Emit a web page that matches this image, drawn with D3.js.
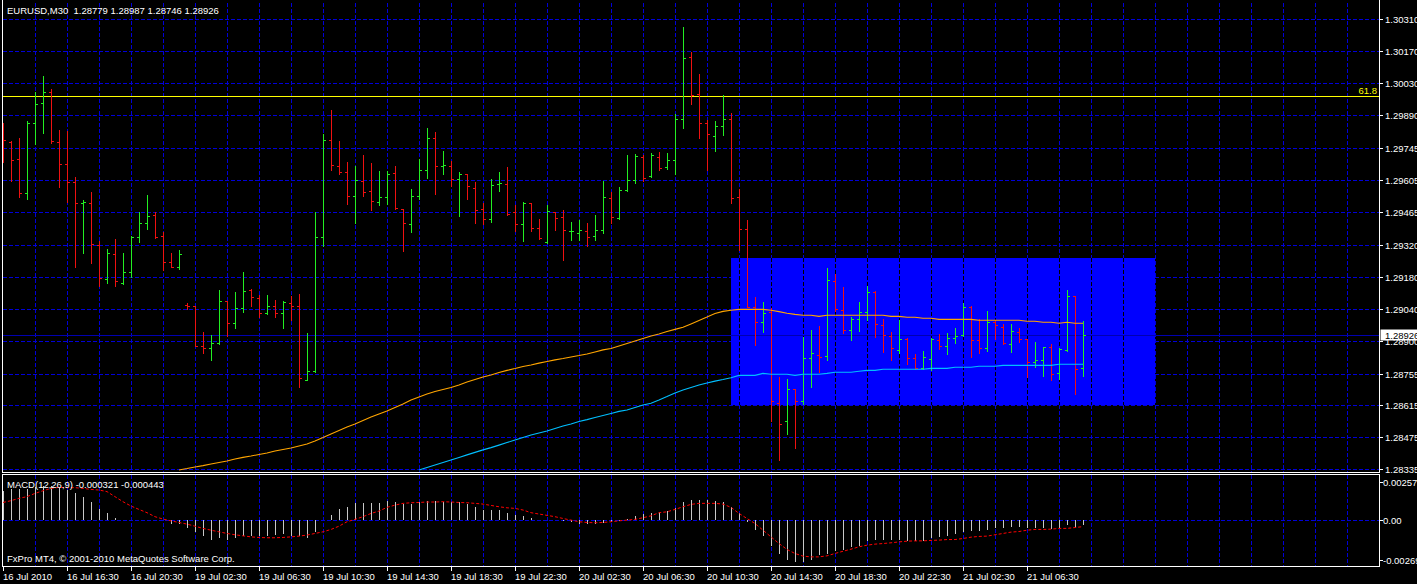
<!DOCTYPE html>
<html><head><meta charset="utf-8">
<script src="https://cdn.jsdelivr.net/npm/d3@7"></script>
<style>
html,body{margin:0;padding:0;background:#000;overflow:hidden;}
svg{display:block;}
text{font-family:"Liberation Sans",Arial,sans-serif;font-size:9.5px;}
</style></head><body>
<svg id="chart" width="1417" height="584"></svg>
<script>
// ---------------- DATA ----------------
const symbolTitle = "EURUSD,M30  1.28779 1.28987 1.28746 1.28926";
const macdTitle = "MACD(12,26,9) -0.000321 -0.000443";
const copyright = "FxPro MT4, \u00A9 2001-2010 MetaQuotes Software Corp.";

const opens = [1.29794,1.29772,1.29696,1.29546,1.29854,1.29942,1.29990,1.29770,1.29674,1.29595,
1.29502,1.29502,1.29319,1.29169,1.29279,1.29151,1.29200,1.29355,1.29415,1.29451,
1.29359,1.29244,1.29224,1.29055,1.29052,1.28877,1.28866,1.28888,1.29072,1.28977,
1.29042,1.29122,1.29085,1.29020,1.29050,1.29021,1.29065,1.29050,1.28728,1.28765,
1.29353,1.29779,1.29665,1.29639,1.29533,1.29600,1.29557,1.29507,1.29529,1.29636,
1.29476,1.29410,1.29533,1.29647,1.29788,1.29665,1.29665,1.29608,1.29631,1.29568,
1.29477,1.29432,1.29586,1.29586,1.29463,1.29410,1.29502,1.29394,1.29331,1.29463,
1.29441,1.29380,1.29373,1.29380,1.29358,1.29384,1.29524,1.29437,1.29560,1.29603,
1.29706,1.29621,1.29706,1.29661,1.29691,1.29871,1.30143,1.29981,1.29854,1.29797,
1.29841,1.29871,1.29529,1.29388,1.29049,1.28980,1.29024,1.28625,1.28545,1.28686,
1.28635,1.28822,1.28837,1.28831,1.29160,1.29033,1.28945,1.28993,1.29024,1.29112,
1.28967,1.28919,1.28857,1.28905,1.28822,1.28778,1.28818,1.28901,1.28875,1.28910,
1.28923,1.29046,1.28901,1.28866,1.28980,1.28958,1.28884,1.28936,1.28905,1.28805,
1.28813,1.28870,1.28756,1.28857,1.29094,1.28779];
const highs = [1.29856,1.29776,1.29789,1.29864,1.29991,1.30061,1.30003,1.29824,1.29820,1.29618,
1.29517,1.29552,1.29337,1.29302,1.29346,1.29284,1.29359,1.29464,1.29539,1.29464,
1.29377,1.29284,1.29298,1.29066,1.29053,1.28939,1.28924,1.29122,1.29074,1.29113,
1.29201,1.29126,1.29100,1.29100,1.29078,1.29074,1.29096,1.29104,1.28933,1.29463,
1.29807,1.29912,1.29776,1.29684,1.29666,1.29715,1.29681,1.29644,1.29644,1.29666,
1.29478,1.29565,1.29697,1.29833,1.29816,1.29732,1.29688,1.29640,1.29632,1.29596,
1.29502,1.29609,1.29640,1.29662,1.29495,1.29508,1.29504,1.29435,1.29495,1.29464,
1.29473,1.29422,1.29431,1.29417,1.29451,1.29602,1.29552,1.29573,1.29715,1.29719,
1.29715,1.29723,1.29728,1.29723,1.29895,1.30276,1.30167,1.30070,1.29868,1.29864,
1.29978,1.29899,1.29565,1.29429,1.29091,1.29069,1.29043,1.28740,1.28731,1.28687,
1.28916,1.28946,1.28964,1.29218,1.29192,1.29135,1.29003,1.29069,1.29139,1.29118,
1.28995,1.28938,1.28990,1.28910,1.28841,1.28854,1.28911,1.28929,1.28933,1.28955,
1.29065,1.29052,1.28995,1.29030,1.28990,1.28973,1.28973,1.28955,1.28907,1.28894,
1.28872,1.28885,1.28867,1.29122,1.29096,1.28987];
const lows = [1.29685,1.29602,1.29529,1.29523,1.29764,1.29812,1.29766,1.29575,1.29508,1.29224,
1.29286,1.29242,1.29141,1.29154,1.29141,1.29148,1.29180,1.29334,1.29390,1.29350,
1.29211,1.29222,1.29215,1.29040,1.28875,1.28847,1.28816,1.28886,1.28921,1.28956,
1.29027,1.29053,1.29005,1.29015,1.29005,1.28956,1.28990,1.28695,1.28725,1.28763,
1.29316,1.29650,1.29632,1.29501,1.29417,1.29536,1.29474,1.29496,1.29501,1.29479,
1.29293,1.29378,1.29523,1.29615,1.29545,1.29632,1.29580,1.29448,1.29523,1.29417,
1.29413,1.29422,1.29558,1.29452,1.29382,1.29338,1.29382,1.29347,1.29330,1.29387,
1.29255,1.29343,1.29343,1.29316,1.29343,1.29373,1.29417,1.29435,1.29558,1.29590,
1.29599,1.29617,1.29650,1.29653,1.29631,1.29834,1.29940,1.29791,1.29649,1.29733,
1.29802,1.29505,1.29298,1.29046,1.28880,1.28939,1.28547,1.28376,1.28490,1.28430,
1.28623,1.28697,1.28763,1.28816,1.29031,1.28931,1.28902,1.28942,1.28992,1.28916,
1.28850,1.28815,1.28847,1.28798,1.28775,1.28775,1.28771,1.28863,1.28841,1.28889,
1.28920,1.28828,1.28845,1.28854,1.28907,1.28885,1.28850,1.28894,1.28740,1.28784,
1.28744,1.28727,1.28731,1.28855,1.28665,1.28746];
const closes = [1.29779,1.29693,1.29546,1.29854,1.29937,1.29990,1.29775,1.29674,1.29595,1.29502,
1.29507,1.29324,1.29173,1.29283,1.29161,1.29200,1.29355,1.29415,1.29447,1.29353,
1.29244,1.29224,1.29280,1.29053,1.28877,1.28866,1.28888,1.29072,1.28977,1.29042,
1.29116,1.29090,1.29022,1.29050,1.29021,1.29071,1.29050,1.28734,1.28765,1.29353,
1.29779,1.29669,1.29639,1.29533,1.29603,1.29551,1.29511,1.29529,1.29631,1.29481,
1.29415,1.29533,1.29647,1.29788,1.29665,1.29669,1.29608,1.29631,1.29577,1.29473,
1.29435,1.29582,1.29590,1.29457,1.29410,1.29502,1.29394,1.29350,1.29470,1.29437,
1.29384,1.29381,1.29384,1.29353,1.29384,1.29529,1.29441,1.29560,1.29603,1.29710,
1.29612,1.29715,1.29656,1.29691,1.29871,1.30139,1.29977,1.29854,1.29805,1.29841,
1.29871,1.29524,1.29388,1.29049,1.28980,1.29020,1.28635,1.28532,1.28686,1.28635,
1.28822,1.28844,1.28826,1.29164,1.29037,1.28945,1.28993,1.29024,1.29112,1.28971,
1.28923,1.28866,1.28905,1.28822,1.28778,1.28826,1.28907,1.28875,1.28910,1.28919,
1.29046,1.28901,1.28866,1.28980,1.28967,1.28888,1.28941,1.28905,1.28805,1.28813,
1.28870,1.28752,1.28862,1.29094,1.28774,1.28926];

// moving averages (first visible bar index, then one value per bar)
const maOrangeStart = 22;
const maOrange = [1.28332,1.28338,1.28345,1.28351,1.28358,1.28365,1.28371,1.28380,1.28387,1.28393,
1.28400,1.28406,1.28415,1.28422,1.28428,1.28437,1.28446,1.28459,1.28474,1.28490,
1.28505,1.28520,1.28534,1.28549,1.28564,1.28578,1.28591,1.28606,1.28621,1.28639,
1.28652,1.28665,1.28676,1.28685,1.28694,1.28705,1.28718,1.28729,1.28740,1.28749,
1.28760,1.28769,1.28777,1.28786,1.28793,1.28801,1.28808,1.28815,1.28821,1.28828,
1.28834,1.28841,1.28850,1.28859,1.28865,1.28876,1.28887,1.28898,1.28909,1.28920,
1.28929,1.28940,1.28949,1.28958,1.28973,1.28988,1.29003,1.29019,1.29028,1.29033,
1.29037,1.29037,1.29037,1.29037,1.29033,1.29027,1.29020,1.29015,1.29011,1.29011,
1.29006,1.29011,1.29011,1.29011,1.29011,1.29011,1.29011,1.29011,1.29011,1.29006,
1.29006,1.29002,1.29002,1.28998,1.28998,1.28993,1.28993,1.28993,1.28993,1.28993,
1.28989,1.28989,1.28989,1.28989,1.28989,1.28989,1.28985,1.28985,1.28980,1.28980,
1.28976,1.28980,1.28976,1.28976];
const maCyanStart = 52;
const maCyan = [1.28332,1.28343,1.28354,1.28365,1.28376,1.28387,1.28398,1.28409,1.28420,1.28430,
1.28441,1.28452,1.28463,1.28474,1.28485,1.28494,1.28503,1.28514,1.28525,1.28534,
1.28545,1.28553,1.28562,1.28571,1.28580,1.28589,1.28595,1.28606,1.28617,1.28625,
1.28639,1.28654,1.28670,1.28683,1.28694,1.28705,1.28714,1.28722,1.28729,1.28737,
1.28747,1.28747,1.28747,1.28756,1.28752,1.28752,1.28752,1.28747,1.28752,1.28752,
1.28752,1.28756,1.28761,1.28761,1.28761,1.28765,1.28769,1.28769,1.28774,1.28774,
1.28774,1.28774,1.28774,1.28774,1.28778,1.28778,1.28778,1.28783,1.28783,1.28783,
1.28787,1.28787,1.28787,1.28791,1.28791,1.28791,1.28791,1.28791,1.28791,1.28791,
1.28796,1.28796,1.28796,1.28796];

const macdHist = [0.00198,0.00210,0.00210,0.00210,0.00225,0.00232,0.00230,0.00214,0.00203,0.00185,
0.00158,0.00124,0.00074,0.00050,0.00016,0.00002,0.00001,-0.00001,0.00001,0.00000,
0.00001,-0.00023,-0.00023,-0.00050,-0.00079,-0.00108,-0.00131,-0.00124,-0.00131,-0.00124,
-0.00108,-0.00106,-0.00106,-0.00104,-0.00101,-0.00095,-0.00108,-0.00108,-0.00122,-0.00081,
-0.00001,0.00036,0.00074,0.00090,0.00113,0.00117,0.00117,0.00117,0.00128,0.00122,
0.00106,0.00106,0.00119,0.00128,0.00128,0.00124,0.00124,0.00124,0.00110,0.00090,
0.00068,0.00068,0.00068,0.00050,0.00034,0.00027,0.00011,0.00001,0.00000,0.00000,
-0.00005,-0.00011,-0.00023,-0.00027,-0.00027,-0.00018,-0.00016,-0.00005,0.00005,0.00027,
0.00038,0.00050,0.00054,0.00061,0.00079,0.00122,0.00135,0.00135,0.00135,0.00128,
0.00122,0.00090,0.00050,-0.00011,-0.00068,-0.00108,-0.00176,-0.00230,-0.00266,-0.00282,
-0.00282,-0.00270,-0.00237,-0.00230,-0.00210,-0.00203,-0.00180,-0.00174,-0.00142,-0.00135,
-0.00131,-0.00135,-0.00135,-0.00140,-0.00140,-0.00140,-0.00124,-0.00117,-0.00106,-0.00097,
-0.00083,-0.00072,-0.00072,-0.00068,-0.00056,-0.00050,-0.00045,-0.00045,-0.00050,-0.00056,
-0.00050,-0.00063,-0.00056,-0.00034,-0.00045,-0.00032];
const macdSignal = [0.00119,0.00131,0.00147,0.00158,0.00180,0.00198,0.00214,0.00221,0.00219,0.00219,
0.00214,0.00207,0.00203,0.00192,0.00158,0.00124,0.00095,0.00072,0.00050,0.00023,
0.00007,-0.00005,-0.00016,-0.00027,-0.00041,-0.00056,-0.00068,-0.00079,-0.00090,-0.00099,
-0.00106,-0.00113,-0.00117,-0.00119,-0.00119,-0.00117,-0.00113,-0.00108,-0.00101,-0.00090,
-0.00079,-0.00063,-0.00041,-0.00011,0.00005,0.00023,0.00045,0.00061,0.00086,0.00101,
0.00113,0.00117,0.00119,0.00122,0.00122,0.00124,0.00122,0.00119,0.00117,0.00113,
0.00108,0.00099,0.00090,0.00083,0.00079,0.00068,0.00050,0.00041,0.00032,0.00023,
0.00011,0.00000,-0.00011,-0.00016,-0.00018,-0.00016,-0.00011,-0.00005,0.00000,0.00005,
0.00016,0.00029,0.00050,0.00056,0.00072,0.00090,0.00106,0.00113,0.00113,0.00113,
0.00108,0.00086,0.00045,0.00011,-0.00023,-0.00068,-0.00113,-0.00158,-0.00198,-0.00225,
-0.00243,-0.00248,-0.00248,-0.00241,-0.00225,-0.00210,-0.00196,-0.00180,-0.00169,-0.00162,
-0.00158,-0.00153,-0.00147,-0.00142,-0.00140,-0.00140,-0.00137,-0.00135,-0.00131,-0.00131,
-0.00124,-0.00115,-0.00110,-0.00108,-0.00099,-0.00090,-0.00081,-0.00077,-0.00068,-0.00063,
-0.00063,-0.00061,-0.00056,-0.00056,-0.00050,-0.00044];

const priceTicks = [1.30310,1.30170,1.30030,1.29890,1.29745,1.29605,1.29465,1.29320,1.29180,1.29040,1.28900,1.28755,1.28615,1.28475,1.28335];
const priceTickLabels = ["1.30310","1.30170","1.30030","1.29890","1.29745","1.29605","1.29465","1.29320","1.29180","1.29040","1.28900","1.28755","1.28615","1.28475","1.28335"];
const macdTicks = [0.00257, 0, -0.00269];
const macdTickLabels = ["0.00257","0.00","-0.00269"];
const timeLabels = ["16 Jul 2010","16 Jul 16:30","16 Jul 20:30","19 Jul 02:30","19 Jul 06:30","19 Jul 10:30","19 Jul 14:30","19 Jul 18:30","19 Jul 22:30","20 Jul 02:30","20 Jul 06:30","20 Jul 10:30","20 Jul 14:30","20 Jul 18:30","20 Jul 22:30","21 Jul 02:30","21 Jul 06:30"];
const timeLabelBars = [0,8,16,24,32,40,48,56,64,72,80,88,96,104,112,120,128];
const fiboPrice = 1.29972, fiboLabel = "61.8";
const bidPrice = 1.28926, bidLabel = "1.28926";
const boxBars = [91, 144];
const boxPrices = [1.29262, 1.28616];

// ---------------- LAYOUT ----------------
const W = 1417, H = 584;
const L = 3, R = 1379, mainTop = 3, mainBot = 472, macdTop = 475, macdBot = 566;
const C = {grid:"#0000d8", up:"#22ee22", down:"#ee1111", orange:"#ffa500", cyan:"#00bfff",
  yellow:"#ffff00", rect:"#0000ff", text:"#ffffff", hist:"#c8c8c8", signal:"#ff0000", bid:"#0000b0"};

const svg = d3.select("#chart");
svg.append("rect").attr("width",W).attr("height",H).attr("fill","#000");

const x = d3.scaleLinear().domain([0,172]).range([3,1379]);
const y = d3.scaleLinear().domain([1.28335,1.30310]).range([469.25,19.36]);
const ym = d3.scaleLinear().domain([-0.00269,0.00257]).range([560,482]);
const px = v => Math.round(v) + 0.5;

const defs = svg.append("defs");
defs.append("clipPath").attr("id","mainClip").append("rect")
  .attr("x",L).attr("y",mainTop).attr("width",R-L).attr("height",mainBot-mainTop);
defs.append("clipPath").attr("id","macdClip").append("rect")
  .attr("x",L).attr("y",macdTop).attr("width",R-L).attr("height",macdBot-macdTop);

// grid x positions every 4 bars
const gridBars = d3.range(4, 172, 4);

// ---- main grid
const gMain = svg.append("g").attr("clip-path","url(#mainClip)");
gMain.selectAll("line.hg").data(priceTicks).join("line")
  .attr("x1",L).attr("x2",R).attr("y1",d=>px(y(d))).attr("y2",d=>px(y(d)))
  .attr("stroke",C.grid).attr("stroke-dasharray","4,2");
gMain.selectAll("line.vg").data(gridBars).join("line")
  .attr("x1",d=>px(x(d))).attr("x2",d=>px(x(d))).attr("y1",mainTop).attr("y2",mainBot)
  .attr("stroke",C.grid).attr("stroke-dasharray","4,2");

// ---- rectangle object
const rx0 = Math.round(x(boxBars[0])), rx1 = Math.round(x(boxBars[1]));
const ry0 = Math.round(y(boxPrices[0])), ry1 = Math.round(y(boxPrices[1]));
gMain.append("rect").attr("x",rx0).attr("y",ry0).attr("width",rx1-rx0).attr("height",ry1-ry0)
  .attr("fill",C.rect);
gMain.selectAll("line.vgr").data(gridBars.filter(b=>x(b)>rx0 && x(b)<rx1)).join("line")
  .attr("x1",d=>px(x(d))).attr("x2",d=>px(x(d))).attr("y1",ry0).attr("y2",ry1)
  .attr("stroke","#000").attr("stroke-dasharray","4,2");

// ---- bid line and fibo line
gMain.append("line").attr("x1",L).attr("x2",R).attr("y1",px(y(bidPrice))).attr("y2",px(y(bidPrice)))
  .attr("stroke",C.bid);
gMain.append("line").attr("x1",L).attr("x2",R).attr("y1",px(y(fiboPrice))).attr("y2",px(y(fiboPrice)))
  .attr("stroke",C.yellow);
svg.append("text").attr("x",1377).attr("y",Math.round(y(fiboPrice))-2).attr("text-anchor","end")
  .attr("fill",C.yellow).text(fiboLabel);

// ---- OHLC bars
const bars = opens.map((o,i)=>({i, o, h:highs[i], l:lows[i], c:closes[i]}));
const gb = gMain.append("g").attr("shape-rendering","crispEdges");
const bg = gb.selectAll("g.bar").data(bars).join("g")
  .attr("stroke", d => d.c >= d.o ? C.up : C.down);
bg.append("line").attr("x1",d=>px(x(d.i))).attr("x2",d=>px(x(d.i)))
  .attr("y1",d=>Math.round(y(d.h))).attr("y2",d=>Math.round(y(d.l))+1);
bg.append("line").attr("x1",d=>Math.round(x(d.i))-2).attr("x2",d=>Math.round(x(d.i)))
  .attr("y1",d=>px(y(d.o))).attr("y2",d=>px(y(d.o)));
bg.append("line").attr("x1",d=>Math.round(x(d.i))+1).attr("x2",d=>Math.round(x(d.i))+3)
  .attr("y1",d=>px(y(d.c))).attr("y2",d=>px(y(d.c)));

// ---- moving averages
const maLine = d3.line().x(d=>x(d[0])).y(d=>y(d[1]));
gMain.append("path").datum(maOrange.map((v,k)=>[maOrangeStart+k,v]))
  .attr("d",maLine).attr("fill","none").attr("stroke",C.orange).attr("stroke-width",1.1);
gMain.append("path").datum(maCyan.map((v,k)=>[maCyanStart+k,v]))
  .attr("d",maLine).attr("fill","none").attr("stroke",C.cyan).attr("stroke-width",1.1);

// ---- MACD panel
const gM = svg.append("g").attr("clip-path","url(#macdClip)");
gM.append("line").attr("x1",L).attr("x2",R).attr("y1",px(ym(0))).attr("y2",px(ym(0)))
  .attr("stroke",C.grid).attr("stroke-dasharray","4,2");
gM.selectAll("line.vg").data(gridBars).join("line")
  .attr("x1",d=>px(x(d))).attr("x2",d=>px(x(d))).attr("y1",macdTop).attr("y2",macdBot)
  .attr("stroke",C.grid).attr("stroke-dasharray","4,2");
gM.append("g").attr("shape-rendering","crispEdges").selectAll("line").data(macdHist).join("line")
  .attr("x1",(d,i)=>px(x(i))).attr("x2",(d,i)=>px(x(i)))
  .attr("y1",Math.round(ym(0))).attr("y2",d=>Math.round(ym(d)))
  .attr("stroke",C.hist);
gM.append("path").datum(macdSignal.map((v,i)=>[i,v]))
  .attr("d",d3.line().x(d=>x(d[0])).y(d=>ym(d[1])))
  .attr("fill","none").attr("stroke",C.signal).attr("stroke-dasharray","3,2");

// ---- borders
const border = svg.append("g").attr("stroke","#fff").attr("fill","none").attr("shape-rendering","crispEdges");
border.append("line").attr("x1",2.5).attr("x2",2.5).attr("y1",0).attr("y2",mainBot+0.5);
border.append("line").attr("x1",R+0.5).attr("x2",R+0.5).attr("y1",0).attr("y2",mainBot+0.5);
border.append("line").attr("x1",2.5).attr("x2",R+0.5).attr("y1",mainBot+0.5).attr("y2",mainBot+0.5);
border.append("rect").attr("x",2.5).attr("y",macdTop-0.5).attr("width",R-2).attr("height",macdBot-macdTop+1);

// ---- price axis
const pa = svg.append("g");
pa.selectAll("line").data(priceTicks).join("line")
  .attr("x1",R+1).attr("x2",R+4).attr("y1",d=>px(y(d))).attr("y2",d=>px(y(d))).attr("stroke","#fff");
pa.selectAll("text").data(priceTicks).join("text")
  .attr("x",1385).attr("y",d=>Math.round(y(d))+3.5).attr("fill",C.text)
  .text((d,i)=>priceTickLabels[i]);
// bid box
pa.append("rect").attr("x",R+1.5).attr("y",Math.round(y(bidPrice))-5.5).attr("width",40).attr("height",11)
  .attr("fill","#fff");
pa.append("text").attr("x",1385).attr("y",Math.round(y(bidPrice))+3.5).attr("fill","#000").text(bidLabel);

// ---- macd axis
const ma = svg.append("g");
ma.selectAll("line").data(macdTicks).join("line")
  .attr("x1",R+1).attr("x2",R+4).attr("y1",d=>px(ym(d))).attr("y2",d=>px(ym(d))).attr("stroke","#fff");
ma.selectAll("text").data(macdTicks).join("text")
  .attr("x",1383).attr("y",d=>Math.round(ym(d))+3.5).attr("fill",C.text)
  .text((d,i)=>macdTickLabels[i]);

// ---- time axis
const ta = svg.append("g");
ta.selectAll("line").data(timeLabelBars).join("line")
  .attr("x1",d=>px(x(d))).attr("x2",d=>px(x(d))).attr("y1",macdBot+1).attr("y2",macdBot+5).attr("stroke","#fff");
ta.selectAll("text").data(timeLabelBars).join("text")
  .attr("x",d=>Math.round(x(d))).attr("y",580).attr("fill",C.text)
  .text((d,i)=>timeLabels[i]);

// ---- titles
svg.append("text").attr("x",7).attr("y",14).attr("fill",C.text).attr("xml:space","preserve")
  .style("white-space","pre").text(symbolTitle);
svg.append("text").attr("x",7).attr("y",488).attr("fill",C.text).text(macdTitle);
svg.append("text").attr("x",7).attr("y",562).attr("fill",C.text).text(copyright);
</script>
</body></html>
